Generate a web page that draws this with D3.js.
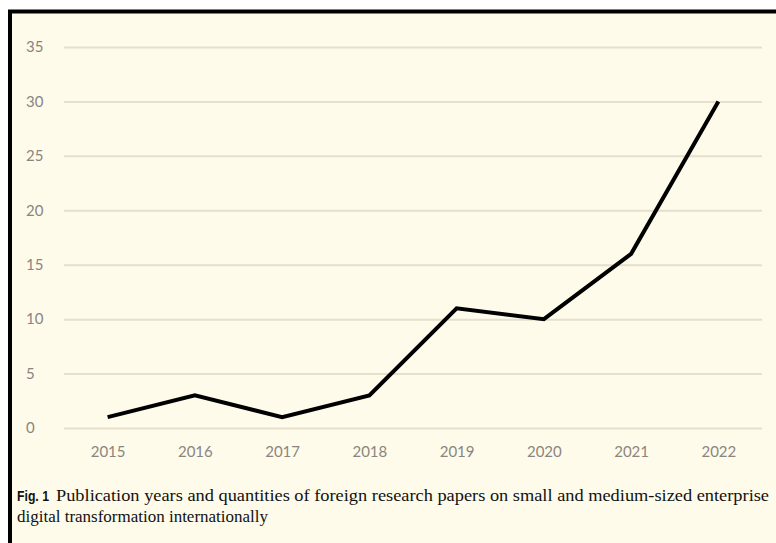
<!DOCTYPE html>
<html>
<head>
<meta charset="utf-8">
<script src="https://cdn.jsdelivr.net/npm/d3@7"></script>
<style>
  body { margin: 0; background: #fff; }
  svg { display: block; }
</style>
</head>
<body>
<svg width="776" height="543"></svg>
<script>
// data
var years = ["2015", "2016", "2017", "2018", "2019", "2020", "2021", "2022"];
var papers = [1, 3, 1, 3, 11, 10, 16, 30];
var yTicks = [0, 5, 10, 15, 20, 25, 30, 35];

var svg = d3.select("svg");

// page background and the black frame on top/left
svg.append("rect")
    .attr("x", 8).attr("y", 10)
    .attr("width", 768).attr("height", 533)
    .attr("fill", "#fefbea");
svg.append("line")
    .attr("x1", 8).attr("x2", 776).attr("y1", 11.5).attr("y2", 11.5)
    .attr("stroke", "#000").attr("stroke-width", 4);
svg.append("line")
    .attr("x1", 10).attr("x2", 10).attr("y1", 10).attr("y2", 543)
    .attr("stroke", "#000").attr("stroke-width", 4);

var margin = {top: 47, left: 64},
    width = 698,
    height = 381,
    g = svg.append("g").attr("transform", "translate(" + margin.left + "," + margin.top + ")");

// set the ranges
var x = d3.scalePoint()
    .domain(years)
    .range([0, width])
    .padding(0.5);

var y = d3.scaleLinear()
    .domain([0, 35])
    .range([height, 0]);

// gridlines
g.append("g")
    .call(d3.axisLeft(y).tickValues(yTicks).tickSize(-width).tickFormat(""))
    .call(function(s) {
      s.select(".domain").remove();
      s.selectAll("line").attr("stroke", "#e5dfcc").attr("stroke-width", 2);
    });

// y tick labels
g.append("g")
    .selectAll("text")
    .data(yTicks)
    .enter().append("text")
      .attr("x", -38)
      .attr("y", function(d) { return y(d); })
      .attr("dy", "0.35em")
      .attr("font-family", "Lato, 'Open Sans', sans-serif")
      .attr("font-size", 15)
      .attr("fill", "#8a8580")
      .text(function(d) { return d; });

// x axis labels
g.append("g")
    .attr("transform", "translate(0," + height + ")")
    .call(d3.axisBottom(x).tickSize(0).tickPadding(18))
    .call(function(s) {
      s.select(".domain").remove();
      s.selectAll("text")
        .attr("font-family", "Lato, 'Open Sans', sans-serif")
        .attr("font-size", 15)
        .attr("fill", "#8a8580");
    });

// the line
var line = d3.line()
    .x(function(d, i) { return x(years[i]); })
    .y(function(d) { return y(d); });

g.append("path")
    .datum(papers)
    .attr("fill", "none")
    .attr("stroke", "#000")
    .attr("stroke-width", 4)
    .attr("stroke-linejoin", "miter")
    .attr("d", line);

// caption
svg.append("text")
    .attr("x", 17)
    .attr("y", 501)
    .attr("font-family", "'Liberation Sans', Arial, sans-serif")
    .attr("font-weight", "bold")
    .attr("font-size", 15)
    .attr("textLength", 32)
    .attr("lengthAdjust", "spacingAndGlyphs")
    .attr("fill", "#111")
    .text("Fig. 1");
svg.append("text")
    .attr("x", 56)
    .attr("y", 501)
    .attr("font-family", "'Liberation Serif', 'Times New Roman', serif")
    .attr("font-size", 16)
    .attr("textLength", 713)
    .attr("lengthAdjust", "spacingAndGlyphs")
    .attr("fill", "#111")
    .text("Publication years and quantities of foreign research papers on small and medium-sized enterprise");
svg.append("text")
    .attr("x", 17)
    .attr("y", 522)
    .attr("font-family", "'Liberation Serif', 'Times New Roman', serif")
    .attr("font-size", 16)
    .attr("textLength", 251)
    .attr("lengthAdjust", "spacingAndGlyphs")
    .attr("fill", "#111")
    .text("digital transformation internationally");
</script>
</body>
</html>
